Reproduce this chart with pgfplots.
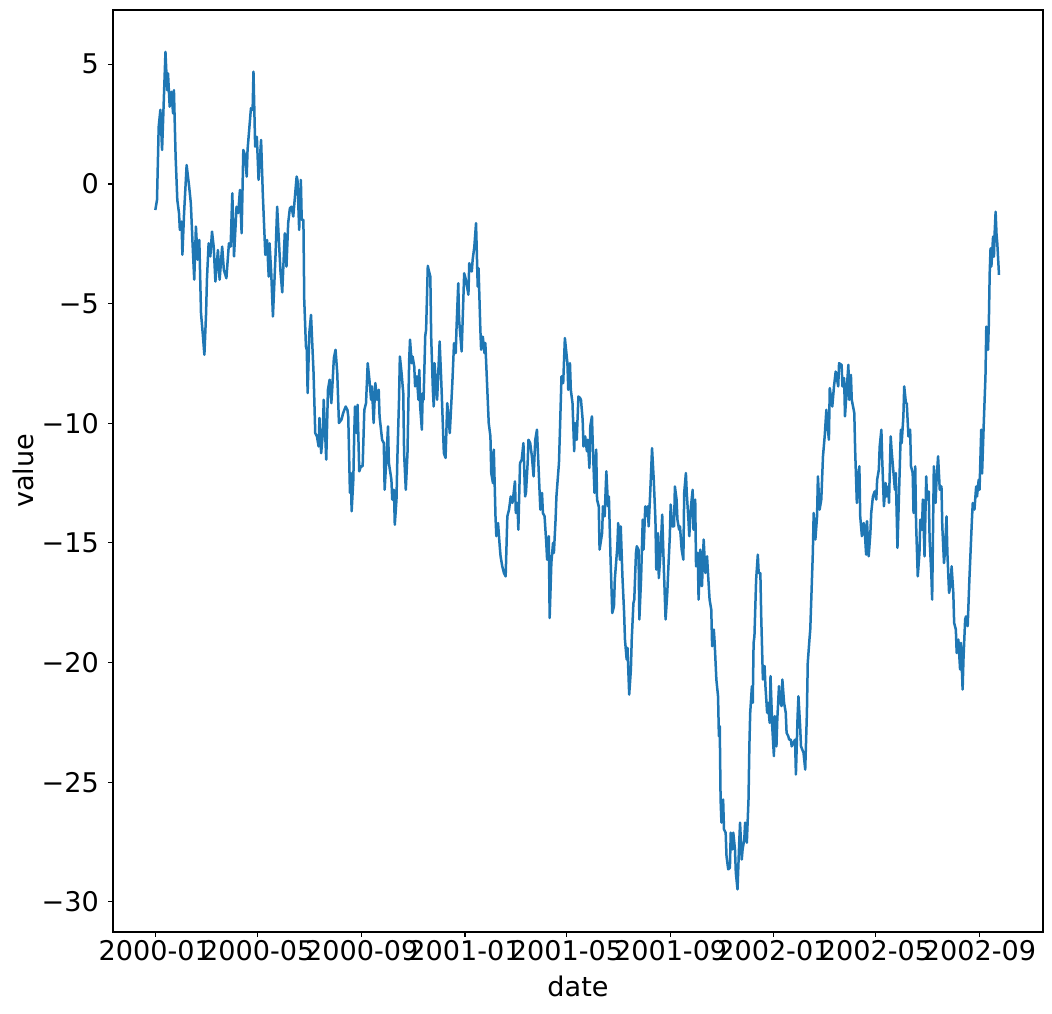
\documentclass[border=0pt]{standalone}
\usepackage{fontspec}
\setmainfont{DejaVu Sans}
\usepackage{pgfplots}
\pgfplotsset{compat=1.18}
\usepackage{pgfplotstable}
\definecolor{mplblue}{HTML}{1F77B4}

% day = days since 2000-01-01
\pgfplotstableread{
day value
0 -1.09
2 -0.67
4 2.39
6 3.10
8 1.42
12 5.52
14 3.92
15 4.62
17 3.23
19 3.85
21 2.95
22 3.92
24 1.14
26 -0.67
28 -1.22
29 -1.92
31 -1.57
32 -2.96
34 -1.22
37 0.79
40 -0.11
42 -0.81
44 -2.48
46 -4.00
48 -1.78
50 -3.17
52 -2.34
54 -5.40
56 -6.23
58 -7.14
60 -5.40
61 -4.00
63 -2.48
65 -3.03
67 -1.99
69 -2.62
71 -4.08
74 -2.76
76 -4.00
79 -2.62
81 -3.59
84 -3.94
87 -2.48
89 -2.62
91 -0.39
93 -3.03
96 -0.95
98 -1.22
100 -0.25
102 -2.06
104 1.42
106 1.21
108 0.31
109 1.42
113 3.16
115 3.09
116 4.69
118 1.56
120 1.97
122 0.17
125 1.84
127 -0.39
130 -2.96
132 -2.34
134 -3.87
135 -2.48
137 -3.73
139 -5.54
142 -3.03
144 -0.95
147 -3.03
148 -3.70
150 -4.53
153 -2.06
155 -3.45
157 -1.64
159 -1.02
161 -0.95
163 -1.36
165 -0.53
167 0.31
168 0.17
170 -1.92
172 0.17
173 -1.50
175 -1.50
176 -4.84
178 -6.79
179 -6.93
180 -8.74
182 -6.23
184 -5.47
187 -7.90
189 -10.41
191 -10.55
193 -10.97
194 -9.78
196 -11.25
198 -10.41
199 -9.02
202 -11.52
204 -8.60
206 -8.18
208 -9.16
209 -8.60
211 -7.28
213 -6.93
215 -7.90
217 -9.99
220 -9.85
222 -9.57
225 -9.30
227 -9.44
228 -9.71
230 -12.91
231 -12.08
232 -13.68
234 -12.36
235 -10.55
236 -9.30
238 -10.41
239 -9.23
241 -12.01
243 -11.80
245 -11.80
247 -9.44
249 -9.16
251 -7.49
253 -8.18
255 -9.02
256 -8.46
258 -9.99
260 -8.32
262 -9.02
264 -8.60
265 -9.71
268 -10.69
270 -10.83
271 -12.78
273 -11.52
275 -10.13
276 -11.66
279 -12.36
280 -13.19
282 -12.78
283 -14.24
285 -13.19
286 -11.52
288 -9.02
289 -7.21
291 -7.90
293 -8.74
294 -11.25
296 -12.78
298 -11.25
300 -7.35
301 -6.51
303 -7.49
304 -7.21
306 -7.63
307 -8.46
309 -8.04
311 -9.02
312 -7.77
313 -9.30
315 -10.27
316 -8.74
317 -9.02
319 -6.34
320 -6.10
322 -3.42
323 -3.59
325 -3.87
326 -6.38
328 -8.60
329 -9.30
330 -7.49
332 -8.60
333 -9.02
336 -6.58
338 -8.32
341 -11.25
343 -11.45
345 -9.16
347 -9.99
348 -10.41
351 -8.32
353 -6.65
355 -7.07
356 -5.96
358 -4.15
359 -5.68
362 -7.00
365 -3.73
367 -4.00
370 -4.63
371 -3.31
374 -3.66
375 -3.17
377 -2.62
379 -1.64
381 -4.29
382 -3.52
384 -5.96
385 -6.93
387 -6.38
389 -7.07
390 -6.65
392 -8.32
394 -9.99
396 -10.55
397 -12.08
399 -12.50
400 -11.10
402 -13.89
403 -14.72
405 -14.17
407 -15.14
408 -15.56
410 -15.98
412 -16.26
414 -16.40
416 -13.89
418 -13.61
420 -13.06
422 -13.33
423 -13.06
425 -12.43
426 -13.75
428 -13.33
429 -14.45
431 -11.66
433 -11.52
435 -10.83
437 -13.06
438 -12.91
440 -11.66
441 -10.69
443 -10.83
445 -11.38
447 -12.22
449 -10.69
451 -10.27
452 -11.10
454 -12.78
455 -13.61
457 -12.91
458 -13.75
460 -13.89
462 -15.00
463 -15.70
465 -14.72
466 -18.14
468 -15.84
470 -15.00
471 -15.42
473 -14.03
474 -13.06
477 -11.66
478 -10.50
480 -8.04
482 -8.32
484 -6.44
487 -7.49
488 -8.60
490 -7.49
491 -8.60
493 -9.16
495 -11.17
496 -9.99
498 -10.69
500 -8.88
502 -8.95
503 -9.02
505 -9.85
506 -10.97
508 -10.55
510 -11.17
511 -10.69
513 -11.87
514 -10.13
516 -9.71
517 -10.97
519 -12.91
521 -11.10
522 -13.19
524 -13.47
525 -15.28
528 -14.59
529 -13.47
531 -13.89
533 -12.01
535 -13.47
536 -13.06
538 -15.70
540 -17.93
542 -17.65
543 -16.53
546 -15.14
547 -14.17
549 -15.70
550 -14.31
552 -16.40
554 -17.93
555 -19.04
557 -19.87
558 -19.39
560 -21.34
562 -20.29
563 -19.04
565 -17.51
566 -17.37
568 -15.42
569 -15.14
571 -15.28
572 -18.20
574 -16.53
576 -14.03
577 -15.28
579 -13.47
580 -13.89
582 -13.47
583 -14.31
585 -12.78
587 -11.04
589 -12.36
591 -14.03
592 -16.12
594 -14.59
595 -16.47
597 -15.42
599 -13.82
601 -16.12
603 -18.20
605 -17.09
606 -16.26
608 -14.72
609 -13.40
611 -14.31
613 -14.31
614 -12.64
616 -13.19
617 -14.03
619 -14.45
620 -14.31
622 -15.28
624 -15.70
625 -12.91
627 -12.08
628 -12.91
630 -14.03
631 -14.72
633 -13.47
635 -12.78
636 -14.45
638 -13.19
639 -15.98
641 -15.42
642 -17.37
644 -15.28
646 -16.81
648 -14.86
650 -16.26
652 -15.56
653 -16.20
655 -17.37
657 -17.79
658 -19.32
660 -18.62
661 -19.18
663 -20.71
665 -21.41
666 -23.08
667 -22.66
668 -25.72
669 -26.69
671 -25.72
672 -26.97
674 -27.11
675 -28.09
677 -28.64
679 -28.58
680 -27.11
682 -27.81
683 -27.11
685 -27.81
686 -28.78
688 -29.48
690 -27.53
691 -26.69
693 -28.23
694 -27.81
696 -27.39
697 -26.69
699 -27.53
701 -25.72
702 -23.50
703 -22.10
705 -20.99
706 -21.68
707 -19.18
708 -18.90
710 -16.53
712 -15.49
713 -16.26
715 -16.26
716 -18.07
718 -20.71
720 -20.15
721 -20.99
723 -22.10
724 -21.68
726 -22.52
727 -20.57
729 -22.66
731 -23.91
732 -22.24
734 -23.50
735 -22.38
737 -20.99
738 -21.54
740 -21.82
741 -20.71
743 -21.68
745 -22.10
746 -22.94
748 -23.08
749 -23.22
751 -23.22
752 -23.50
754 -23.36
756 -23.22
757 -24.68
759 -22.24
760 -21.41
762 -22.66
763 -23.50
766 -23.77
768 -24.47
770 -22.10
771 -20.01
773 -19.04
774 -18.60
777 -15.42
778 -13.75
780 -14.86
782 -13.89
783 -12.22
785 -13.61
787 -13.19
789 -11.38
791 -10.55
793 -9.44
794 -9.99
796 -10.69
797 -8.53
800 -9.30
802 -8.46
804 -7.84
805 -8.04
807 -8.46
808 -7.49
811 -7.56
812 -8.46
814 -8.11
815 -9.71
817 -8.60
819 -7.56
820 -9.02
822 -7.98
823 -9.02
826 -9.57
827 -11.10
829 -13.33
830 -12.36
832 -11.80
833 -13.89
835 -14.72
837 -14.17
838 -14.31
840 -15.49
841 -14.09
843 -15.56
845 -14.59
846 -13.75
848 -13.06
850 -12.85
852 -13.19
853 -12.36
855 -11.94
856 -10.97
858 -10.27
859 -11.52
861 -13.47
863 -12.50
864 -13.06
866 -12.64
867 -13.33
869 -10.55
870 -11.10
872 -11.94
874 -12.78
875 -12.08
877 -15.21
879 -12.78
881 -10.27
882 -10.83
884 -9.71
885 -8.46
887 -9.16
888 -9.16
890 -10.55
892 -10.27
893 -11.80
895 -12.08
896 -13.75
898 -11.80
899 -14.17
901 -16.40
903 -15.42
904 -14.03
906 -14.45
907 -13.19
909 -15.56
911 -12.22
912 -13.19
914 -12.85
915 -14.86
917 -16.26
918 -17.37
920 -11.80
922 -13.33
923 -12.50
925 -11.38
927 -12.78
929 -12.64
930 -14.31
932 -15.84
933 -15.42
935 -13.89
936 -15.42
938 -17.09
940 -16.68
941 -15.98
943 -17.09
944 -18.34
946 -18.62
947 -19.60
949 -19.04
951 -20.29
952 -19.18
954 -21.13
955 -19.87
957 -18.20
958 -18.07
960 -18.48
962 -16.53
963 -15.70
965 -14.03
966 -13.33
968 -13.61
970 -12.64
971 -13.06
973 -12.36
974 -12.78
976 -10.27
977 -12.10
979 -10.00
981 -8.05
982 -5.96
984 -6.93
985 -5.82
986 -3.73
987 -2.69
988 -3.45
990 -2.20
991 -3.04
992 -1.92
993 -1.16
994 -2.06
995 -2.48
997 -3.80
}\walk

\begin{document}
\fontsize{19.5}{23.4}\selectfont
\begin{tikzpicture}
\begin{axis}[
    at={(0,0)}, anchor=south west,
    scale only axis,
    width=669.6pt, height=663.84pt,
    xmin=-50, xmax=1049,
    ymin=-31.26, ymax=7.27,
    xtick={0,121,244,366,486,609,731,851,974},
    xticklabels={2000-01,2000-05,2000-09,2001-01,2001-05,2001-09,2002-01,2002-05,2002-09},
    ytick={-30,-25,-20,-15,-10,-5,0,5},
    yticklabels={−30,−25,−20,−15,−10,−5,0,5},
    tick pos=left,
    tick align=outside,
    major tick length=3.5pt,
    every tick/.style={black, line width=0.8pt},
    axis line style={line width=0.8pt},
    xticklabel style={inner sep=2.5pt},
    xlabel={date},
    ylabel={value},
    xlabel style={at={(axis description cs:0.5,-0.0695)}, anchor=base},
    ylabel style={at={(axis description cs:-0.086,0.5)}, anchor=base},
]
\addplot[mplblue, line width=1.8pt, line join=round, no markers] table[x=day, y=value] {\walk};
\end{axis}
\pgfresetboundingbox
\useasboundingbox (-81.36pt,-59.04pt) rectangle (676.08pt,671.04pt);
\end{tikzpicture}
\end{document}
